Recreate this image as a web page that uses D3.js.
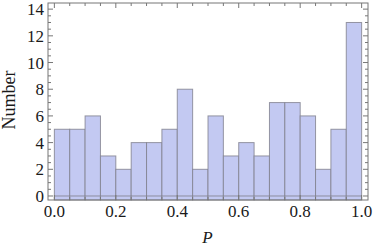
<!DOCTYPE html>
<html lang="en">
<head>
<meta charset="UTF-8">
<title>Histogram of P</title>
<script src="https://cdn.jsdelivr.net/npm/d3@7.8.5/dist/d3.min.js"></script>
<style>
  body { margin: 0; background: #fff; }
  svg { display: block; }
  text { font-family: "Liberation Serif", "DejaVu Serif", serif; fill: #1a1a1a; }
</style>
</head>
<body>
<div id="chart"></div>
<script>
// bin edges and counts
const binStarts = [0.00, 0.05, 0.10, 0.15, 0.20, 0.25, 0.30, 0.35, 0.40, 0.45,
                   0.50, 0.55, 0.60, 0.65, 0.70, 0.75, 0.80, 0.85, 0.90, 0.95];
const binWidth = 0.05;
const counts = [5, 5, 6, 3, 2, 4, 4, 5, 8, 2, 6, 3, 4, 3, 7, 7, 6, 2, 5, 13];
const xTicks = [0, 0.2, 0.4, 0.6, 0.8, 1.0];
const yTicks = [0, 2, 4, 6, 8, 10, 12, 14];

const W = 374, H = 248;
const frame = {left: 48, right: 368, top: 3, bottom: 200};

const svg = d3.select("#chart").append("svg")
  .attr("width", W).attr("height", H);

const x = d3.scaleLinear().domain([-0.0207, 1.0207]).range([frame.left, frame.right]);
const y = d3.scaleLinear().domain([-0.3, 14.46]).range([frame.bottom, frame.top]);

// bars
svg.append("g").selectAll("rect")
  .data(counts)
  .join("rect")
  .attr("x", (d, i) => x(binStarts[i]))
  .attr("width", x(binWidth) - x(0))
  .attr("y", d => y(d))
  .attr("height", d => y(y.domain()[0]) - y(d))
  .attr("fill", "#c3c9f2")
  .attr("stroke", "#7f7f8c")
  .attr("stroke-opacity", 0.8)
  .attr("stroke-width", 1);

// zero line
svg.append("line")
  .attr("x1", x(0)).attr("x2", x(1))
  .attr("y1", y(0)).attr("y2", y(0))
  .attr("stroke", "#7f7f8c").attr("stroke-opacity", 0.8);

// frame
svg.append("rect")
  .attr("x", frame.left).attr("y", frame.top)
  .attr("width", frame.right - frame.left)
  .attr("height", frame.bottom - frame.top)
  .attr("fill", "none")
  .attr("stroke", "#777");

// ticks drawn inside the frame on all four sides
const xMinor = d3.range(0, 1.0001, 0.05);
const yMinor = d3.range(0, 14.001, 0.5);
const tickG = svg.append("g").attr("stroke", "#777");

xMinor.forEach(v => {
  const major = xTicks.some(t => Math.abs(t - v) < 1e-6);
  const len = major ? 5 : 3;
  tickG.append("line").attr("x1", x(v)).attr("x2", x(v))
    .attr("y1", frame.bottom).attr("y2", frame.bottom - len);
  tickG.append("line").attr("x1", x(v)).attr("x2", x(v))
    .attr("y1", frame.top).attr("y2", frame.top + len);
});
yMinor.forEach(v => {
  const major = yTicks.some(t => Math.abs(t - v) < 1e-6);
  const len = major ? 5 : 3;
  tickG.append("line").attr("y1", y(v)).attr("y2", y(v))
    .attr("x1", frame.left).attr("x2", frame.left + len);
  tickG.append("line").attr("y1", y(v)).attr("y2", y(v))
    .attr("x1", frame.right).attr("x2", frame.right - len);
});

// tick labels
svg.append("g").selectAll("text")
  .data(xTicks)
  .join("text")
  .attr("x", d => x(d))
  .attr("y", 217)
  .attr("text-anchor", "middle")
  .style("font-size", "17px")
  .text(d => d3.format(".1f")(d));

svg.append("g").selectAll("text")
  .data(yTicks)
  .join("text")
  .attr("x", 44)
  .attr("y", d => y(d) + 6)
  .attr("text-anchor", "end")
  .style("font-size", "17px")
  .text(d => d);

// axis titles
svg.append("text")
  .attr("transform", `translate(15, 100) rotate(-90)`)
  .attr("text-anchor", "middle")
  .style("font-size", "18px")
  .text("Number");

svg.append("text")
  .attr("x", 207.5)
  .attr("y", 243)
  .attr("text-anchor", "middle")
  .style("font-size", "17px")
  .style("font-style", "italic")
  .text("P");
</script>
</body>
</html>
